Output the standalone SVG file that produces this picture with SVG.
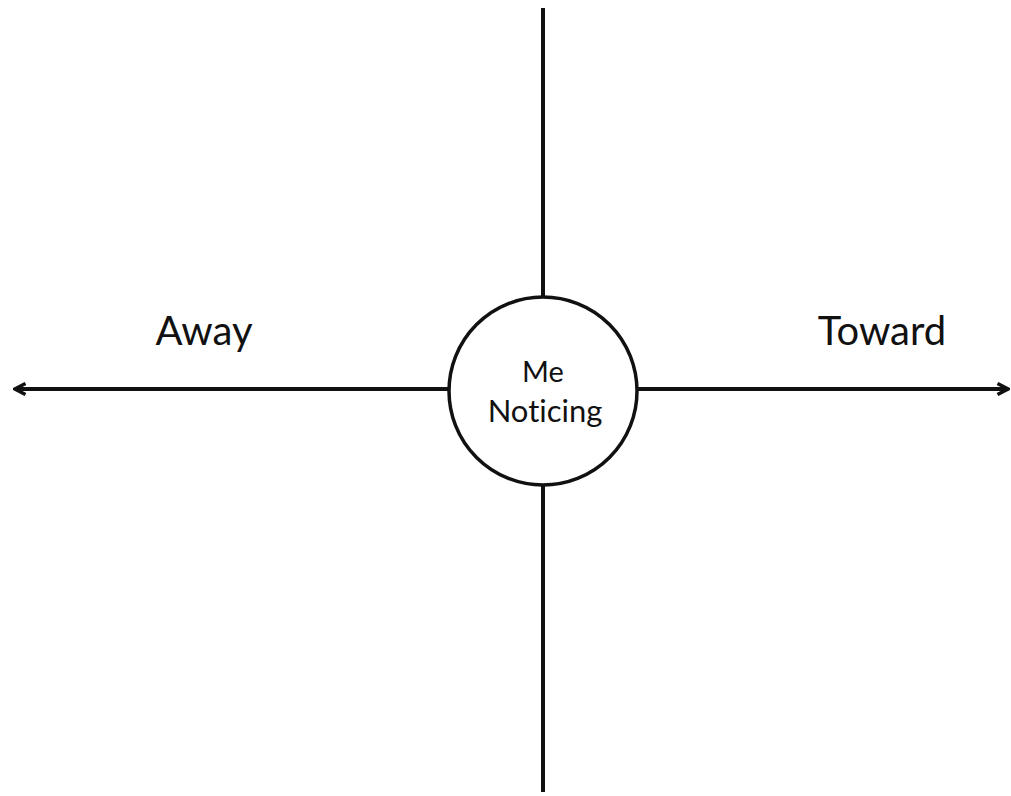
<svg xmlns="http://www.w3.org/2000/svg" width="1011" height="796" viewBox="0 0 1011 796">
<style>
.ln{stroke:#111;stroke-width:4;fill:none}
.lbl{font-family:Lato,"Liberation Sans",sans-serif;fill:#111;font-variant-ligatures:none}
</style>
<defs>
<marker id="ah" viewBox="0 0 14 14" refX="12" refY="7" markerWidth="14" markerHeight="14" markerUnits="userSpaceOnUse" orient="auto">
<path d="M1.5,1.5 L12,7 L1.5,12.5" fill="none" stroke="#111" stroke-width="3.5"/>
</marker>
</defs>
<rect width="1011" height="796" fill="#fff"/>
<g id="connectors">
<line class="ln" x1="543" y1="8" x2="543" y2="297"/>
<line class="ln" x1="543" y1="485" x2="543" y2="792"/>
<line class="ln" x1="449" y1="389" x2="15" y2="389" marker-end="url(#ah)"/>
<line class="ln" x1="637" y1="389" x2="1008" y2="389" marker-end="url(#ah)"/>
</g>
<g id="center">
<circle cx="543" cy="391" r="94" fill="#fff" stroke="#111" stroke-width="3.5"/>
<text class="lbl" x="543" y="382" font-size="29" text-anchor="middle">Me</text>
<text class="lbl" x="545" y="422" font-size="31" text-anchor="middle">Noticing</text>
</g>
<g id="away"><text class="lbl" x="204" y="345" font-size="40" text-anchor="middle">Away</text></g>
<g id="toward"><text class="lbl" x="882" y="345" font-size="40" text-anchor="middle">Toward</text></g>
</svg>
